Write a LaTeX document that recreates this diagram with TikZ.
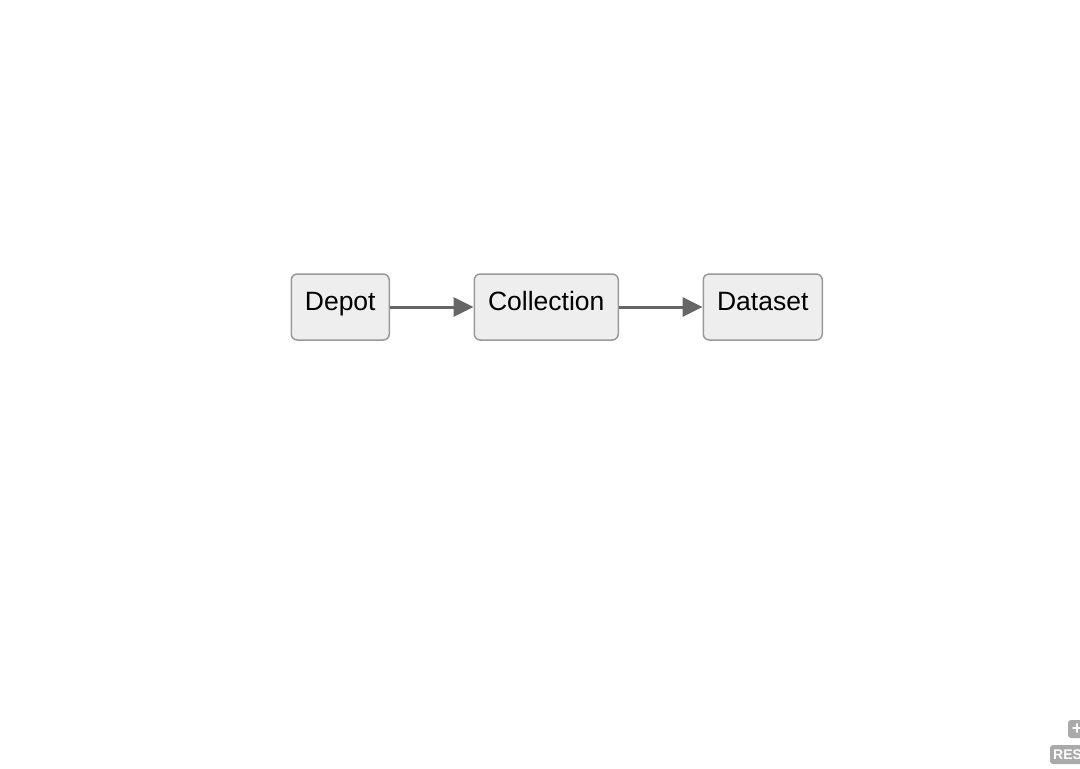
\documentclass[tikz,border=0pt]{standalone}
\usepackage{fontspec}
\setmainfont{Liberation Sans}
\usetikzlibrary{arrows.meta}
\definecolor{boxfill}{HTML}{EEEEEE}
\definecolor{boxdraw}{HTML}{999999}
\definecolor{edgecol}{HTML}{666666}
\definecolor{btncol}{HTML}{AAAAAA}
\begin{document}
\begin{tikzpicture}[x=1pt,y=-1pt,
  box/.style={draw=boxdraw,fill=boxfill,line width=1.5pt,rounded corners=6pt,
    inner sep=0pt,text height=36pt,text depth=30pt,anchor=west,
    font=\fontsize{26.5}{30}\selectfont},
  link/.style={draw=edgecol,line width=3pt,-{Triangle[length=20pt,width=19pt]}},
  btn/.style={fill=btncol,rounded corners=3pt}]
\useasboundingbox (0,0) rectangle (1080,769);
\clip (0,0) rectangle (1080,769);
\fill[white] (0,0) rectangle (1080,769);
\node[box,minimum width=98pt] (depot) at (290.5,307) {Depot};
\node[box,minimum width=144pt] (coll) at (473.5,307) {Collection};
\node[box,minimum width=119pt] (data) at (702.5,307) {Dataset};
\draw[link] (depot.east) -- (coll.west);
\draw[link] (coll.east) -- (data.west);
\fill[btn] (1068,720) rectangle (1095,738);
\node[text=white,font=\bfseries\fontsize{18}{18}\selectfont,inner sep=0pt] (plus) at (1077,729) {+};
\fill[btn] (1050,745) rectangle (1120,764);
\node[text=white,font=\bfseries\fontsize{14}{14}\selectfont,inner sep=0pt,anchor=west] (reset) at (1053,755) {RESET};
\end{tikzpicture}
\end{document}
